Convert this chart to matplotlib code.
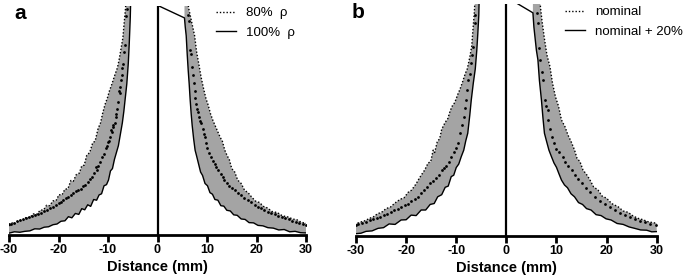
import numpy as np
import matplotlib
matplotlib.use('Agg')
import matplotlib.pyplot as plt
from matplotlib.lines import Line2D

plt.rcParams['font.family'] = ['Liberation Sans', 'DejaVu Sans']

# ---- panel a : 80% rho (dotted) vs 100% rho (solid) ----
a_left_dot_x = [-6.3, -6.5, -6.8, -7.0, -7.4, -7.8, -8.1, -8.6, -9.2, -9.7, -10.1, -10.6, -11.1, -11.5, -12.0,
                -12.6, -13.1, -13.7, -14.3, -14.8, -15.3, -15.8, -16.4, -17.0, -17.5, -18.1, -18.7, -19.3, -19.9,
                -20.5, -21.1, -21.8, -22.4, -23.0, -23.7, -24.4, -25.1, -25.8, -26.5, -27.2, -27.9, -28.6, -29.3, -30.0]
a_left_dot_y = [104, 98, 91, 86, 81, 76, 73, 70, 66, 63, 60, 57, 53, 49, 46.5, 41.0, 40.2, 36.0, 34.8, 30.5,
                30.2, 27.0, 26.4, 23.5, 23.8, 20.2, 20.0, 17.5, 17.6, 15.0, 14.9, 12.8, 13.0, 11.0, 10.8, 9.0, 9.2,
                7.6, 7.8, 6.2, 6.5, 5.0, 5.4, 3.8]
a_left_sol_x = [-5.4, -5.5, -5.7, -5.9, -6.2, -6.5, -6.8, -7.1, -7.5, -7.9, -8.3, -8.7, -9.1, -9.5, -9.9, -10.3,
                -10.8, -11.3, -11.8, -12.3, -12.9, -13.5, -14.1, -14.7, -15.3, -15.9, -16.6, -17.3, -18.0, -18.7,
                -19.5, -20.3, -21.1, -22.0, -22.9, -23.8, -24.8, -25.8, -26.8, -27.8, -28.9, -30.0]
a_left_sol_y = [104, 95, 84, 75, 66, 60, 54, 49, 44, 39, 36, 33, 29, 28, 24, 22, 21.5, 18, 17.5, 15.2, 15.5,
                12.5, 13.2, 11.0, 11.5, 9.0, 9.4, 7.5, 8.0, 6.2, 6.0, 4.8, 4.5, 3.6, 3.4, 2.6, 2.7, 1.8, 1.6, 1.2,
                1.4, 0.8]
a_left_pts_x = [-6.2, -6.3, -6.6, -6.8, -7.0, -7.1, -7.2, -7.3, -7.5, -7.6, -7.7, -8.0, -8.2, -8.3, -8.4, -8.5,
                -8.9, -9.0, -9.1, -9.3, -9.6, -9.8, -10.0, -10.2, -10.5, -10.9, -11.2, -11.6, -12.0, -12.3, -12.5,
                -12.8, -13.3, -13.6, -14.1, -14.6, -15.0, -15.5, -16.0, -16.5, -17.0, -17.5, -18.0, -18.5, -19.0,
                -19.5, -20.0, -20.6, -21.2, -21.8, -22.4, -23.0, -23.6, -24.2, -24.8, -25.4, -26.0, -26.6, -27.2,
                -27.8, -28.4, -29.0, -29.6, -30.0]
a_left_pts_y = [98.5, 95.5, 83, 80, 74.5, 73, 70, 67.5, 64.5, 62, 63, 58, 55, 51.5, 53, 49, 47, 48, 45, 46, 43,
                41, 40.5, 39, 38, 35.5, 34, 32, 30, 28.5, 29.5, 27, 25.5, 24.3, 23.2, 22, 21.3, 20.3, 19.6, 19, 18.4,
                17.6, 16.8, 16.0, 15.2, 14.6, 13.8, 13.2, 12.4, 11.8, 11.0, 10.5, 9.8, 9.3, 8.8, 8.2, 7.8, 7.4, 6.9,
                6.4, 5.9, 5.4, 4.9, 4.6]

a_right_dot_x = [6.0, 6.3, 6.7, 7.1, 7.5, 7.9, 8.4, 8.8, 9.3, 9.8, 10.2, 10.7, 11.2, 11.7, 12.2, 12.7, 13.1,
                 13.6, 14.1, 14.5, 15.0, 15.6, 16.2, 16.9, 17.6, 18.3, 19.0, 19.8, 20.6, 21.4, 22.2, 23.2, 24.2,
                 25.2, 26.3, 27.3, 28.2, 29.1, 30.0]
a_right_dot_y = [104, 99, 95, 91, 87, 80, 74, 69, 64, 59.5, 57, 53, 50, 47.5, 45, 42.5, 41, 37, 34.5, 33, 29,
                 27.5, 24, 22.5, 19.5, 18.5, 16.6, 14.8, 14.2, 12.5, 11.8, 10.2, 9.8, 8.4, 7.9, 7.0, 6.6, 5.5, 5.2]
a_right_sol_x = [0, 5.45, 5.6, 5.8, 6.0, 6.2, 6.4, 6.6, 6.8, 7.0, 7.3, 7.6, 7.9, 8.3, 8.7, 9.1, 9.6, 10.1, 10.6,
                 11.1, 11.6, 12.2, 12.8, 13.4, 14.0, 14.7, 15.4, 16.1, 16.9, 17.7, 18.5, 19.4, 20.3, 21.3, 22.3,
                 23.4, 24.5, 25.6, 26.7, 27.8, 28.9, 30.0]
a_right_sol_y = [100.3, 94.8, 91, 87, 79, 72, 66, 59, 53, 48, 42, 37, 34.5, 31, 27.5, 26, 22.5, 21.5, 18.5,
                 17.8, 15.5, 15.2, 12.8, 12.6, 10.8, 10.5, 8.8, 8.6, 7.0, 6.8, 5.4, 5.3, 4.2, 4.0, 3.2, 3.0, 2.2,
                 2.4, 1.4, 1.6, 1.0, 0.9]
a_right_pts_x = [6.1, 6.3, 6.6, 6.7, 7.0, 7.2, 7.35, 7.5, 7.6, 7.8, 8.0, 8.15, 8.35, 8.6, 8.8, 9.1, 9.3, 9.5,
                 9.8, 10.1, 10.5, 10.8, 11.2, 11.6, 11.9, 12.3, 12.8, 13.2, 13.5, 14.0, 14.5, 15.0, 15.6, 16.2,
                 16.8, 17.5, 18.2, 18.9, 19.6, 20.3, 21.0, 21.6, 22.3, 23.0, 23.7, 24.4, 25.1, 25.8, 26.5, 27.2,
                 27.9, 28.6, 29.3, 30.0]
a_right_pts_y = [96, 93.5, 81, 79, 73.5, 70, 66.5, 63, 60, 57, 55, 53.7, 51.5, 50, 49, 46.5, 44, 42.8, 40, 38,
                 36, 34, 32.5, 31, 29.7, 28.2, 26.6, 25.2, 24.0, 22.8, 21.6, 20.6, 19.7, 18.5, 17.4, 16.3, 15.3,
                 14.2, 13.2, 12.4, 11.6, 10.9, 10.2, 9.6, 9.0, 8.4, 7.9, 7.3, 6.8, 6.3, 5.8, 5.3, 4.8, 4.4]

# ---- panel b : nominal (dotted) vs nominal + 20% (solid) ----
b_left_dot_x = [-6.2, -6.4, -6.7, -6.9, -7.3, -7.8, -8.2, -8.8, -9.3, -9.7, -10.3, -10.8, -11.2, -11.7, -12.2,
                -12.9, -13.3, -13.8, -14.3, -14.6, -15.1, -15.6, -16.3, -16.9, -17.4, -18.0, -18.9, -19.6, -20.4,
                -21.2, -22.3, -23.1, -24.0, -24.9, -25.7, -26.5, -27.3, -28.2, -29.1, -30.0]
b_left_dot_y = [104, 96, 88, 82, 77, 72, 70, 66, 63, 61, 57.5, 56, 54, 50.5, 49, 46, 42, 40.5, 36, 37, 32, 31.5,
                28.4, 26.5, 24.8, 22.5, 19.8, 18.8, 16.5, 15.8, 14.1, 12.5, 11.8, 10.2, 9.6, 8.3, 7.6, 6.6, 6.0, 5.3]
b_left_sol_x = [-5.4, -5.5, -5.7, -5.9, -6.2, -6.6, -7.0, -7.3, -7.7, -8.1, -8.5, -9.0, -9.5, -10.0, -10.5,
                -11.0, -11.6, -12.2, -12.9, -13.7, -14.4, -15.2, -16.1, -17.0, -18.0, -19.0, -20.0, -21.0, -22.2,
                -23.4, -24.5, -25.6, -26.8, -28.0, -29.0, -30.0]
b_left_sol_y = [104, 95, 87, 80, 72, 65.8, 58.6, 52, 44.3, 41, 37, 34.2, 31, 29.5, 26.2, 25.6, 21.5, 21.0, 17.8,
                16.9, 14.0, 13.6, 11.2, 11.2, 8.8, 9.0, 7.0, 6.9, 5.0, 5.2, 3.6, 3.3, 2.2, 2.0, 1.2, 1.0]
b_left_pts_x = [-6.2, -6.3, -6.6, -6.8, -7.0, -7.3, -7.6, -7.8, -8.0, -8.3, -8.5, -8.9, -9.2, -9.6, -10.0,
                -10.5, -11.0, -11.5, -12.0, -12.4, -12.9, -13.5, -14.0, -14.6, -15.2, -15.8, -16.4, -17.0, -17.6,
                -18.3, -19.0, -19.7, -20.3, -21.0, -21.7, -22.4, -23.1, -23.8, -24.5, -25.2, -25.9, -26.6, -27.3,
                -28.0, -28.8, -29.6, -30.0]
b_left_pts_y = [95.3, 92, 81.6, 78, 74.4, 70, 67.2, 63, 58.6, 55, 51.4, 48, 44.3, 40, 38, 36, 34, 32, 30.2,
                29.3, 28.4, 26.5, 25, 23.8, 22.8, 21.2, 19.8, 18.6, 17, 16.0, 15.0, 14.0, 13.3, 12.6, 11.8, 11.0,
                10.3, 9.6, 9.0, 8.3, 7.8, 7.2, 6.7, 6.2, 5.6, 5.0, 4.7]

b_right_dot_x = [6.7, 6.8, 7.1, 7.6, 8.1, 8.7, 9.2, 9.8, 10.4, 11.0, 11.7, 12.3, 12.9, 13.6, 14.1, 14.7, 15.3,
                 16.0, 16.6, 17.4, 18.3, 19.1, 20.0, 21.0, 22.3, 23.3, 24.3, 25.3, 26.3, 27.3, 28.2, 29.1, 30.0]
b_right_dot_y = [104, 98.8, 93, 85, 78, 73, 66, 60, 56, 50, 47.1, 43.5, 40.8, 37.1, 33.5, 32.0, 28.4, 26.5,
                 24.5, 21.2, 19.8, 17.2, 16.3, 14.0, 12.6, 10.8, 10.2, 8.6, 7.6, 7.0, 6.2, 5.8, 5.5]
b_right_sol_x = [0, 5.3, 5.5, 5.8, 6.0, 6.3, 6.6, 7.0, 7.3, 7.6, 8.0, 8.5, 9.0, 9.5, 10.0, 10.5, 11.0, 11.6,
                 12.2, 12.9, 13.6, 14.4, 15.2, 16.0, 16.9, 17.9, 18.9, 19.9, 20.9, 22.1, 23.3, 24.5, 25.6, 26.8,
                 28.0, 29.0, 30.0]
b_right_sol_y = [103, 96.2, 90, 84, 80, 75.9, 67, 58.6, 51, 44.3, 41, 37, 34.2, 31.5, 29.6, 26.8, 24.1, 22.0,
                 20.8, 18.2, 16.9, 14.4, 13.6, 11.8, 11.2, 9.2, 8.8, 7.4, 6.9, 5.4, 5.0, 3.9, 3.3, 2.6, 2.5, 1.8, 1.9]
b_right_pts_x = [6.1, 6.3, 6.6, 6.8, 7.1, 7.4, 7.7, 8.0, 8.3, 8.3, 8.7, 9.1, 9.6, 10.0, 10.5, 11.3, 11.8, 12.4,
                 13.0, 13.6, 14.3, 15.0, 15.8, 16.7, 17.6, 18.6, 19.6, 20.6, 21.6, 22.6, 23.6, 24.6, 25.6, 26.6,
                 27.6, 28.7, 29.9]
b_right_pts_y = [96, 92, 80.9, 76, 70.8, 67.2, 58.6, 56, 54.3, 50, 46, 42.5, 40, 37.5, 36, 34.2, 32, 30, 28.4,
                 26.5, 24.5, 22.7, 20.8, 18.8, 16.9, 15.0, 13.6, 12.4, 11.2, 10.0, 9.0, 8.0, 7.3, 6.6, 6.0, 5.3, 4.7]

xticks = [-30, -20, -10, 0, 10, 20, 30]
GRAY = '#a4a4a4'
DOTS = (0, (1, 1.4))


def draw_band(ax, dx, dy, sx, sy, px, py):
    # gray band between the two curves, then the dotted curve and the points
    poly_x = list(dx) + list(sx[::-1]) + [sx[0]]
    poly_y = list(dy) + list(sy[::-1]) + [dy[0]]
    ax.fill(poly_x, poly_y, color=GRAY, lw=0, zorder=1)
    ax.plot(dx, dy, color='k', lw=1.0, ls=DOTS, zorder=2)
    ax.plot(px, py, 'o', color='k', ms=2.0, mew=0, zorder=3)


def setup(ax):
    ax.set_xlim(-30, 30)
    ax.set_ylim(0, 100)
    for s in ['left', 'right', 'top']:
        ax.spines[s].set_visible(False)
    ax.spines['bottom'].set_linewidth(2)
    ax.set_yticks([])
    ax.set_xticks(xticks)
    ax.set_xticklabels([str(t) for t in xticks], fontsize=9, fontweight='bold')
    ax.tick_params(axis='x', direction='out', length=5, width=2, pad=1.5)
    ax.axvline(0, color='k', lw=1.6, zorder=4)
    ax.set_xlabel('Distance (mm)', fontsize=10.5, fontweight='bold', labelpad=3)


fig = plt.figure(figsize=(6.85, 2.75), dpi=100)
ax1 = fig.add_axes([9 / 685, 40 / 275, 297 / 685, 229 / 275])
ax2 = fig.add_axes([356 / 685, 39 / 275, 300.7 / 685, 232 / 275])

# panel a
setup(ax1)
draw_band(ax1, a_left_dot_x, a_left_dot_y, a_left_sol_x, a_left_sol_y, a_left_pts_x, a_left_pts_y)
draw_band(ax1, a_right_dot_x, a_right_dot_y, a_right_sol_x[1:], a_right_sol_y[1:], a_right_pts_x, a_right_pts_y)
ax1.plot(a_left_sol_x, a_left_sol_y, color='k', lw=1.0, zorder=2)
ax1.plot(a_right_sol_x, a_right_sol_y, color='k', lw=1.0, zorder=2)

# panel b
setup(ax2)
draw_band(ax2, b_left_dot_x, b_left_dot_y, b_left_sol_x, b_left_sol_y, b_left_pts_x, b_left_pts_y)
draw_band(ax2, b_right_dot_x, b_right_dot_y, b_right_sol_x[1:], b_right_sol_y[1:], b_right_pts_x, b_right_pts_y)
ax2.plot(b_left_sol_x, b_left_sol_y, color='k', lw=1.0, zorder=2)
ax2.plot(b_right_sol_x, b_right_sol_y, color='k', lw=1.0, zorder=2)

# legends
h_dot = Line2D([], [], color='k', lw=1.0, ls=DOTS)
h_sol = Line2D([], [], color='k', lw=1.0)
fig.legend([h_dot, h_sol], ['80%  \u03c1', '100%  \u03c1'], loc='upper left',
           bbox_to_anchor=(216 / 685, 1 - 7 / 275), frameon=False, fontsize=9.5,
           handlelength=1.55, handletextpad=0.75, labelspacing=0.55, borderpad=0, borderaxespad=0)
fig.legend([h_dot, h_sol], ['nominal', 'nominal + 20%'], loc='upper left',
           bbox_to_anchor=(565 / 685, 1 - 6 / 275), frameon=False, fontsize=9.5,
           handlelength=1.55, handletextpad=0.75, labelspacing=0.55, borderpad=0, borderaxespad=0)

fig.text(14 / 685, 1 - 19 / 275, 'a', fontsize=15, fontweight='bold')
fig.text(352 / 685, 1 - 18 / 275, 'b', fontsize=15, fontweight='bold')

plt.savefig('out.png', dpi=100)
